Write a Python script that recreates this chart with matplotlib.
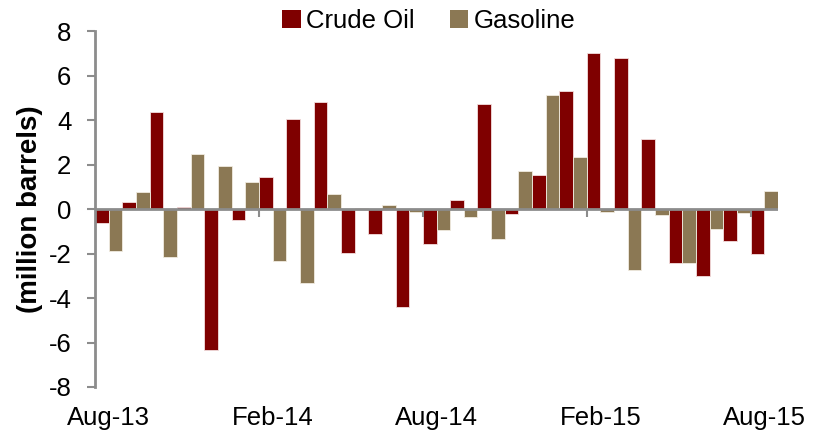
import numpy as np
import matplotlib
matplotlib.use("Agg")
import matplotlib.pyplot as plt
from matplotlib.patches import Patch

months = ["Aug-13", "Sep-13", "Oct-13", "Nov-13", "Dec-13", "Jan-14", "Feb-14",
          "Mar-14", "Apr-14", "May-14", "Jun-14", "Jul-14", "Aug-14", "Sep-14",
          "Oct-14", "Nov-14", "Dec-14", "Jan-15", "Feb-15", "Mar-15", "Apr-15",
          "May-15", "Jun-15", "Jul-15", "Aug-15"]
crude = [-0.63, 0.33, 4.35, 0.08, -6.33, -0.50, 1.43, 4.06, 4.83, -1.98, -1.14,
         -4.39, -1.56, 0.42, 4.72, -0.21, 1.53, 5.32, 7.01, 6.78, 3.13, -2.44,
         -3.02, -1.43, -2.03]
gasoline = [-1.91, 0.78, -2.14, 2.48, 1.94, 1.22, -2.33, -3.34, 0.68, 0.05, 0.20,
            -0.12, -0.96, -0.38, -1.35, 1.70, 5.11, 2.33, -0.15, -2.74, -0.26,
            -2.44, -0.90, -0.20, 0.81]
label_every = 6

plt.rcParams['font.family'] = ['Liberation Sans', 'DejaVu Sans']
plt.rcParams['axes.unicode_minus'] = False

CRUDE_C = "#7F0000"
GAS_C = "#8B7854"
AX_C = "#8C8C8C"
FS = 18.5

fig = plt.figure(figsize=(8.16, 4.33), dpi=100)
ax = fig.add_axes([95/816, 1 - 387/433, (778 - 95)/816, (387 - 31)/433])

x = np.arange(len(months))
w = 0.5
ax.bar(x - w/2, crude, width=w, color=CRUDE_C, edgecolor="#f3dede", linewidth=0.6,
       label="Crude Oil", zorder=2)
ax.bar(x + w/2, gasoline, width=w, color=GAS_C, edgecolor="#f1ece0", linewidth=0.6,
       label="Gasoline", zorder=2)

ax.set_xlim(-0.5, len(months) - 0.5)
ax.set_ylim(-8, 8)
ax.set_yticks(np.arange(-8, 9, 2))
ax.tick_params(axis='y', direction='out', length=6, width=1.5, color=AX_C,
               labelsize=FS, pad=11)

# zero line (category axis) and its boundary ticks
ax.axhline(0, color=AX_C, linewidth=2, zorder=3)
bounds = np.arange(0, len(months), label_every) - 0.5
ax.vlines(bounds[1:], -0.38, 0, color=AX_C, linewidth=1.5, zorder=3)

ax.set_xticks(x[::label_every])
ax.set_xticklabels(months[::label_every])
ax.tick_params(axis='x', length=0, labelsize=FS, pad=14)

for s in ["top", "right", "bottom"]:
    ax.spines[s].set_visible(False)
ax.spines["left"].set_color(AX_C)
ax.spines["left"].set_linewidth(2)

ax.set_ylabel("(million barrels)", fontsize=20, fontweight="bold", labelpad=4)

handles = [Patch(facecolor=CRUDE_C), Patch(facecolor=GAS_C)]
fig.legend(handles, ["Crude Oil", "Gasoline"], loc="center",
           bbox_to_anchor=(429/816, 1 - 21/433), ncol=2, frameon=False,
           fontsize=FS, handlelength=0.72, handleheight=0.72, handletextpad=0.22,
           columnspacing=1.35)

fig.savefig("out.png", dpi=100)
